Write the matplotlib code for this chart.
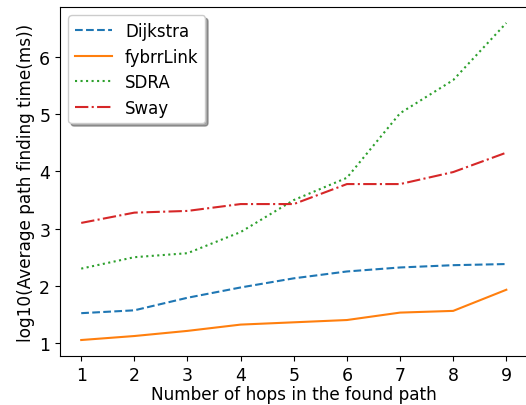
import matplotlib
matplotlib.use("Agg")
import matplotlib.pyplot as plt

HOPS = [1, 2, 3, 4, 5, 6, 7, 8, 9]
DIJKSTRA = [1.52, 1.57, 1.79, 1.97, 2.13, 2.25, 2.32, 2.36, 2.38]
FYBRRLINK = [1.05, 1.12, 1.21, 1.32, 1.36, 1.40, 1.53, 1.56, 1.93]
SDRA = [2.30, 2.50, 2.57, 2.94, 3.50, 3.89, 5.02, 5.60, 6.60]
SWAY = [3.10, 3.28, 3.31, 3.43, 3.43, 3.78, 3.78, 3.99, 4.33]


def main() -> None:
    fig = plt.figure(figsize=(5.26, 4.06), dpi=100)
    ax = fig.add_axes([0.114, 0.121, 0.889, 0.859])

    ax.plot(HOPS, DIJKSTRA, "--", color="#1f77b4", lw=1.5, label="Dijkstra")
    ax.plot(HOPS, FYBRRLINK, "-", color="#ff7f0e", lw=1.5, label="fybrrLink")
    ax.plot(HOPS, SDRA, ":", color="#2ca02c", lw=1.5, label="SDRA")
    ax.plot(HOPS, SWAY, "-.", color="#d62728", lw=1.5, label="Sway")

    ax.set_xticks(HOPS)
    ax.tick_params(labelsize=12.5)
    ax.set_xlabel("Number of hops in the found path", fontsize=12.2, labelpad=1)
    ax.set_ylabel("log10(Average path finding time(ms))", fontsize=12.2, labelpad=3)
    ax.legend(loc="upper left", fontsize=12, shadow=True, handlelength=2.2,
              labelspacing=0.45)

    fig.savefig("out.png", dpi=100)
    plt.close(fig)


if __name__ == "__main__":
    main()
